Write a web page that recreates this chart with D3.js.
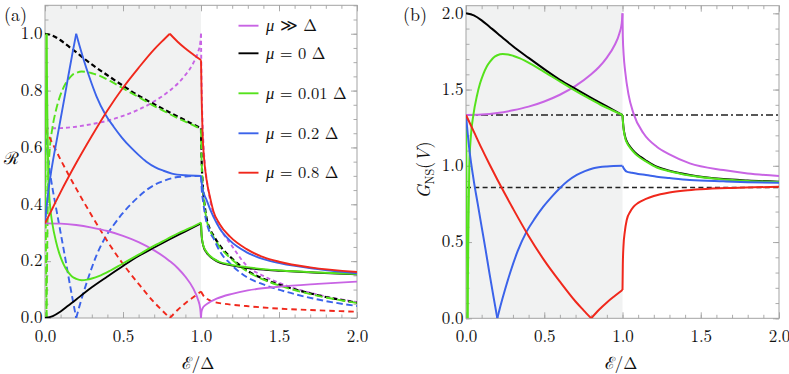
<!DOCTYPE html>
<html><head><meta charset="utf-8">
<script src="https://cdn.jsdelivr.net/npm/d3@7"></script>
<style>body{margin:0;background:#fff}svg{display:block}</style>
</head><body>
<svg id="c" width="789" height="374"></svg>
<script>
// ---------------- DATA ----------------
const xTicks = [0, 0.5, 1, 1.5, 2];
const yTicksR = [0, 0.2, 0.4, 0.6, 0.8, 1.0];
const yTicksG = [0, 0.5, 1.0, 1.5, 2.0];
const legendLabels = [["μ", " ≫ Δ"], ["μ", " = 0 Δ"], ["μ", " = 0.01 Δ"], ["μ", " = 0.2 Δ"], ["μ", " = 0.8 Δ"]];
const muBreaks = [[1], [1], [0.01, 1], [0.2, 1], [0.8, 1]];
const colors = ["#c864e4", "#000000", "#55e21c", "#3b63ea", "#f0281c"];
const gRefDashDot = 1.333;
const gRefDashed = 0.857;

// normal reflection R_N (solid), Andreev reflection R_A (dashed) : [E/Δ, value]
const rNinf = [[0,0.333],[0.1,0.332],[0.2,0.327],[0.3,0.318],[0.4,0.306],[0.5,0.289],[0.6,0.267],[0.7,0.238],[0.8,0.2],[0.85,0.176],[0.9,0.145],[0.95,0.104],[0.98,0.066],[0.995,0.033],[1.0,0.0],[1.003,0.022],[1.01,0.034],[1.03,0.046],[1.06,0.057],[1.1,0.068],[1.2,0.085],[1.3,0.097],[1.5,0.11],[1.75,0.12],[2.0,0.128]];
const rAinf = [[0,0.667],[0.1,0.668],[0.2,0.673],[0.3,0.682],[0.4,0.694],[0.5,0.711],[0.6,0.733],[0.7,0.762],[0.8,0.8],[0.85,0.824],[0.9,0.855],[0.95,0.896],[0.98,0.934],[0.995,0.967],[1.0,1.0],[1.003,0.85],[1.008,0.72],[1.015,0.62],[1.025,0.54],[1.036,0.49],[1.06,0.41],[1.1,0.34],[1.15,0.29],[1.186,0.263],[1.29,0.186],[1.4,0.148],[1.51,0.122],[1.75,0.082],[2.0,0.056]];
const rN0 = [[0,0],[0.05,0.007],[0.1,0.023],[0.15,0.044],[0.2,0.065],[0.25,0.087],[0.3,0.108],[0.4,0.146],[0.5,0.183],[0.6,0.218],[0.7,0.248],[0.8,0.277],[0.9,0.305],[1.0,0.333],[1.004,0.29],[1.01,0.265],[1.02,0.245],[1.036,0.23],[1.06,0.215],[1.08,0.207],[1.12,0.195],[1.186,0.186],[1.29,0.177],[1.4,0.17],[1.51,0.166],[1.75,0.159],[2.0,0.154]];
const rA0 = [[0,1.0],[0.05,0.993],[0.1,0.977],[0.15,0.956],[0.2,0.935],[0.25,0.913],[0.3,0.892],[0.4,0.854],[0.5,0.817],[0.6,0.782],[0.7,0.752],[0.8,0.723],[0.9,0.695],[1.0,0.667],[1.003,0.58],[1.008,0.5],[1.015,0.44],[1.025,0.39],[1.036,0.35],[1.06,0.31],[1.08,0.29],[1.12,0.255],[1.186,0.216],[1.29,0.169],[1.4,0.138],[1.51,0.116],[1.75,0.08],[2.0,0.054]];
const rN001 = [[0,0.333],[0.005,0.667],[0.01,1.0],[0.015,0.725],[0.021,0.5],[0.03,0.41],[0.047,0.333],[0.07,0.27],[0.09,0.23],[0.11,0.2],[0.132,0.175],[0.155,0.157],[0.175,0.145],[0.2,0.138],[0.235,0.133],[0.27,0.135],[0.3,0.139],[0.345,0.147],[0.42,0.167],[0.494,0.19],[0.6,0.223],[0.686,0.25],[0.78,0.277],[0.857,0.299],[0.93,0.317],[1.0,0.336],[1.004,0.293],[1.01,0.267],[1.02,0.247],[1.036,0.232],[1.06,0.217],[1.08,0.209],[1.12,0.197],[1.186,0.188],[1.29,0.179],[1.4,0.172],[1.51,0.167],[1.75,0.16],[2.0,0.155]];
const rA001 = [[0,0.667],[0.005,0.333],[0.01,0.0],[0.015,0.275],[0.021,0.5],[0.03,0.59],[0.047,0.667],[0.07,0.73],[0.09,0.77],[0.11,0.8],[0.132,0.825],[0.155,0.843],[0.175,0.855],[0.2,0.862],[0.235,0.867],[0.27,0.865],[0.3,0.861],[0.345,0.853],[0.42,0.833],[0.494,0.81],[0.6,0.777],[0.686,0.75],[0.78,0.723],[0.857,0.701],[0.93,0.683],[1.0,0.664],[1.003,0.575],[1.008,0.495],[1.015,0.435],[1.025,0.385],[1.036,0.345],[1.06,0.305],[1.08,0.285],[1.12,0.25],[1.186,0.212],[1.29,0.166],[1.4,0.135],[1.51,0.113],[1.75,0.078],[2.0,0.053]];
const rN02 = [[0,0.333],[0.01,0.39],[0.02,0.44],[0.036,0.503],[0.05,0.55],[0.075,0.625],[0.1,0.7],[0.125,0.775],[0.15,0.853],[0.175,0.928],[0.2,1.0],[0.22,0.96],[0.25,0.905],[0.281,0.853],[0.33,0.78],[0.388,0.715],[0.44,0.673],[0.494,0.634],[0.55,0.6],[0.601,0.573],[0.65,0.55],[0.708,0.53],[0.76,0.518],[0.814,0.508],[0.9,0.502],[1.0,0.5],[1.008,0.46],[1.02,0.435],[1.036,0.415],[1.06,0.38],[1.08,0.356],[1.12,0.315],[1.186,0.272],[1.29,0.232],[1.4,0.207],[1.51,0.192],[1.75,0.172],[2.0,0.157]];
const rA02 = [[0,0.667],[0.01,0.61],[0.02,0.56],[0.036,0.497],[0.05,0.45],[0.075,0.375],[0.1,0.3],[0.125,0.225],[0.15,0.147],[0.175,0.072],[0.2,0.0],[0.22,0.04],[0.25,0.095],[0.281,0.147],[0.33,0.22],[0.388,0.285],[0.44,0.327],[0.494,0.366],[0.55,0.4],[0.601,0.427],[0.65,0.45],[0.708,0.47],[0.76,0.482],[0.814,0.492],[0.9,0.498],[1.0,0.5],[1.005,0.45],[1.015,0.403],[1.03,0.35],[1.05,0.31],[1.08,0.28],[1.12,0.235],[1.186,0.192],[1.29,0.145],[1.4,0.118],[1.51,0.098],[1.75,0.065],[2.0,0.042]];
const rN08 = [[0,0.333],[0.05,0.388],[0.1,0.443],[0.15,0.495],[0.2,0.545],[0.3,0.64],[0.4,0.73],[0.5,0.81],[0.6,0.88],[0.7,0.945],[0.75,0.973],[0.8,1.0],[0.85,0.972],[0.9,0.948],[0.95,0.927],[1.0,0.907],[1.005,0.75],[1.01,0.65],[1.02,0.56],[1.036,0.485],[1.06,0.42],[1.08,0.375],[1.12,0.33],[1.186,0.286],[1.29,0.243],[1.4,0.214],[1.5,0.198],[1.7,0.178],[2.0,0.162]];
const rA08 = [[0,0.667],[0.05,0.612],[0.1,0.557],[0.15,0.505],[0.2,0.455],[0.3,0.36],[0.4,0.27],[0.5,0.19],[0.6,0.12],[0.7,0.055],[0.75,0.027],[0.8,0.0],[0.85,0.028],[0.9,0.052],[0.95,0.073],[1.0,0.093],[1.02,0.075],[1.05,0.064],[1.08,0.057],[1.15,0.05],[1.29,0.042],[1.5,0.033],[1.75,0.027],[2.0,0.022]];

// conductance G_NS(V) : [E/Δ, value]
const gInf = [[0,1.333],[0.1,1.336],[0.2,1.346],[0.3,1.364],[0.4,1.388],[0.5,1.422],[0.6,1.466],[0.7,1.524],[0.8,1.6],[0.85,1.648],[0.9,1.71],[0.95,1.792],[0.98,1.868],[0.995,1.934],[1.0,2.0],[1.002,1.85],[1.008,1.72],[1.017,1.62],[1.038,1.47],[1.07,1.344],[1.134,1.213],[1.219,1.125],[1.3,1.075],[1.43,1.016],[1.645,0.972],[1.8,0.95],[2.0,0.933]];
const g0 = [[0,2.0],[0.05,1.986],[0.1,1.954],[0.15,1.912],[0.2,1.87],[0.25,1.826],[0.3,1.784],[0.4,1.708],[0.5,1.634],[0.6,1.564],[0.7,1.504],[0.8,1.446],[0.9,1.39],[1.0,1.333],[1.003,1.29],[1.006,1.256],[1.017,1.19],[1.03,1.155],[1.049,1.125],[1.08,1.088],[1.113,1.06],[1.15,1.035],[1.219,0.994],[1.3,0.968],[1.43,0.94],[1.645,0.913],[1.8,0.904],[2.0,0.896]];
const g001 = [[0,1.333],[0.005,0.667],[0.01,0.0],[0.015,0.55],[0.021,1.0],[0.03,1.18],[0.047,1.333],[0.07,1.46],[0.09,1.541],[0.11,1.6],[0.132,1.65],[0.155,1.685],[0.175,1.709],[0.2,1.725],[0.235,1.733],[0.27,1.73],[0.3,1.722],[0.345,1.705],[0.42,1.665],[0.494,1.62],[0.6,1.553],[0.686,1.5],[0.78,1.445],[0.857,1.402],[0.93,1.366],[1.0,1.333],[1.003,1.285],[1.006,1.25],[1.017,1.183],[1.03,1.148],[1.049,1.118],[1.08,1.081],[1.113,1.053],[1.15,1.029],[1.219,0.989],[1.3,0.964],[1.43,0.936],[1.645,0.91],[1.8,0.901],[2.0,0.894]];
const g02 = [[0,1.333],[0.01,1.22],[0.02,1.12],[0.036,0.994],[0.05,0.9],[0.075,0.75],[0.1,0.6],[0.125,0.45],[0.15,0.295],[0.175,0.145],[0.2,0.0],[0.22,0.08],[0.25,0.19],[0.281,0.295],[0.33,0.44],[0.388,0.57],[0.44,0.655],[0.494,0.732],[0.55,0.8],[0.601,0.855],[0.65,0.9],[0.708,0.94],[0.76,0.965],[0.814,0.984],[0.9,0.996],[1.0,1.0],[1.01,0.98],[1.027,0.962],[1.06,0.955],[1.1,0.947],[1.15,0.94],[1.219,0.929],[1.3,0.92],[1.43,0.907],[1.645,0.898],[1.8,0.893],[2.0,0.889]];
const g08 = [[0,1.333],[0.05,1.224],[0.1,1.114],[0.15,1.01],[0.2,0.91],[0.3,0.72],[0.4,0.54],[0.5,0.38],[0.6,0.24],[0.7,0.11],[0.75,0.054],[0.8,0.0],[0.85,0.056],[0.9,0.104],[0.95,0.146],[1.0,0.186],[1.002,0.35],[1.006,0.47],[1.015,0.57],[1.027,0.645],[1.05,0.7],[1.07,0.73],[1.1,0.757],[1.15,0.783],[1.2,0.802],[1.3,0.825],[1.4,0.838],[1.5,0.846],[1.7,0.855],[2.0,0.862]];

const seriesRN = [rNinf, rN0, rN001, rN02, rN08];
const seriesRA = [rAinf, rA0, rA001, rA02, rA08];
const seriesG = [gInf, g0, g001, g02, g08];
const dashRA = ["4,3", "5,3", "8,3.5", "6.5,3.5", "5.5,4"];

// ---------------- DRAWING ----------------
const svg = d3.select("#c");
const FONT = '"Latin Modern Roman", "Liberation Serif", serif';
const FRAME = "#a3a3a3";

function splitAt(data, breaks) {
  const segs = []; let cur = [];
  data.forEach(p => {
    cur.push(p);
    if (breaks.some(b => Math.abs(b - p[0]) < 1e-9)) { segs.push(cur); cur = [p]; }
  });
  if (cur.length > 1) segs.push(cur);
  return segs;
}

function panel(cfg, id) {
  const x = d3.scaleLinear().domain([0, 2]).range([cfg.left, cfg.right]);
  const y = d3.scaleLinear().domain(cfg.yDom).range([cfg.bottom, cfg.top]);
  const g = svg.append("g");
  g.append("clipPath").attr("id", id).append("rect")
    .attr("x", cfg.left).attr("y", cfg.top).attr("width", cfg.right - cfg.left).attr("height", cfg.bottom - cfg.top);
  g.append("rect").attr("x", x(0)).attr("y", cfg.top).attr("width", x(1) - x(0))
    .attr("height", cfg.bottom - cfg.top).attr("fill", "#f1f2f2");
  const fmt = d3.format(".1f");
  const xMinor = d3.range(0, 2.0001, 0.1);
  const yMinor = d3.range(0, cfg.yDom[1] + 1e-9, cfg.yMinorStep);
  const axes = [
    [d3.axisBottom(x).tickValues(xTicks).tickSize(-6).tickPadding(11.5).tickFormat(fmt), `translate(0,${cfg.bottom})`],
    [d3.axisBottom(x).tickValues(xMinor).tickSize(-3.5).tickFormat(""), `translate(0,${cfg.bottom})`],
    [d3.axisTop(x).tickValues(xTicks).tickSize(-6).tickFormat(""), `translate(0,${cfg.top})`],
    [d3.axisTop(x).tickValues(xMinor).tickSize(-3.5).tickFormat(""), `translate(0,${cfg.top})`],
    [d3.axisLeft(y).tickValues(cfg.yTicks).tickSize(-6).tickPadding(2.5).tickFormat(fmt), `translate(${cfg.left},0)`],
    [d3.axisLeft(y).tickValues(yMinor).tickSize(-3.5).tickFormat(""), `translate(${cfg.left},0)`],
    [d3.axisRight(y).tickValues(cfg.yTicks).tickSize(-6).tickFormat(""), `translate(${cfg.right},0)`],
    [d3.axisRight(y).tickValues(yMinor).tickSize(-3.5).tickFormat(""), `translate(${cfg.right},0)`]
  ];
  axes.forEach(([ax, tr], k) => {
    const a = g.append("g").attr("transform", tr).call(ax);
    a.attr("font-family", null).attr("font-size", null);
    a.select(".domain").remove();
    a.selectAll(".tick line").attr("stroke", FRAME).attr("stroke-width", 0.9);
    a.selectAll(".tick text").style("font-family", FONT).style("font-size", "17px").attr("fill", "#111");
    if (k === 4) a.selectAll(".tick text").attr("dy", "0.28em");
  });
  g.append("rect").attr("x", cfg.left).attr("y", cfg.top).attr("width", cfg.right - cfg.left)
    .attr("height", cfg.bottom - cfg.top).attr("fill", "none").attr("stroke", FRAME).attr("stroke-width", 1);
  const plot = g.append("g").attr("clip-path", `url(#${id})`);
  const line = d3.line().x(d => x(d[0])).y(d => y(d[1])).curve(d3.curveMonotoneX);
  return { x, y, plot, line };
}

function drawSeries(P, data, breaks, color, dash, width) {
  splitAt(data, breaks).forEach(seg => {
    P.plot.append("path").attr("d", P.line(seg)).attr("fill", "none").attr("stroke", color)
      .attr("stroke-width", width).attr("stroke-dasharray", dash || null).attr("stroke-linejoin", "round");
  });
}

// Panel (a)
const A = panel({ left: 45, right: 357, top: 5.3, bottom: 318, yDom: [0, 1.1], yTicks: yTicksR, yMinorStep: 0.05 }, "clipA");
seriesRA.forEach((d, i) => drawSeries(A, d, muBreaks[i], colors[i], dashRA[i], i === 1 ? 2.2 : 1.9));
seriesRN.forEach((d, i) => drawSeries(A, d, muBreaks[i], colors[i], null, 1.9));

// Panel (b)
const B = panel({ left: 466, right: 779, top: 5.7, bottom: 318.3, yDom: [0, 2.05], yTicks: yTicksG, yMinorStep: 0.1 }, "clipB");
B.plot.append("line").attr("x1", B.x(0)).attr("x2", B.x(2)).attr("y1", B.y(gRefDashDot)).attr("y2", B.y(gRefDashDot))
  .attr("stroke", "#222").attr("stroke-width", 1.5).attr("stroke-dasharray", "7,3,2,3");
B.plot.append("line").attr("x1", B.x(0)).attr("x2", B.x(2)).attr("y1", B.y(gRefDashed)).attr("y2", B.y(gRefDashed))
  .attr("stroke", "#222").attr("stroke-width", 1.5).attr("stroke-dasharray", "5,3.3");
seriesG.forEach((d, i) => drawSeries(B, d, muBreaks[i], colors[i], null, 2));

// Legend
const legY = [25.7, 53.3, 93.3, 133.3, 172.7];
legendLabels.forEach((lab, i) => {
  svg.append("line").attr("x1", 238.5).attr("x2", 258.5).attr("y1", legY[i]).attr("y2", legY[i])
    .attr("stroke", colors[i]).attr("stroke-width", 1.9);
  const t = svg.append("text").attr("x", 266).attr("y", legY[i]).attr("dy", "0.33em")
    .style("font-family", FONT).style("font-size", "16.5px").attr("fill", "#111");
  t.append("tspan").style("font-style", "italic").text(lab[0]);
  t.append("tspan").attr("xml:space", "preserve").text(lab[1]);
});

// Labels
function txt(x, y, s, opts = {}) {
  return svg.append("text").attr("x", x).attr("y", y).style("font-family", FONT)
    .style("font-size", (opts.size || 16) + "px").attr("text-anchor", opts.anchor || "start").attr("fill", "#111").text(s);
}
txt(4, 21, "(a)", { size: 18 });
txt(403, 21, "(b)", { size: 18 });
txt(11, 164, "ℛ", { size: 17, anchor: "middle" });
txt(198, 369, "ℰ/Δ", { size: 17, anchor: "middle" });
txt(621, 369, "ℰ/Δ", { size: 17, anchor: "middle" });
const gl = svg.append("text").attr("transform", "translate(430,170) rotate(-90)").attr("text-anchor", "middle")
  .style("font-family", FONT).style("font-size", "18px").attr("fill", "#111");
gl.append("tspan").style("font-style", "italic").text("G");
gl.append("tspan").style("font-size", "12px").attr("dy", 4).text("NS");
gl.append("tspan").attr("dy", -4).text("(");
gl.append("tspan").style("font-style", "italic").text("V");
gl.append("tspan").text(")");
</script>
</body></html>
